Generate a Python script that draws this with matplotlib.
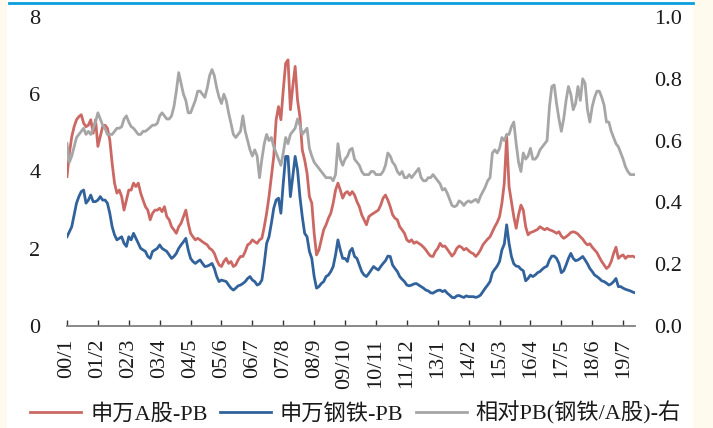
import numpy as np
import matplotlib
matplotlib.use("Agg")
import matplotlib.pyplot as plt
from matplotlib.patches import Rectangle
from matplotlib.lines import Line2D

plt.rcParams['font.family'] = ['Liberation Serif', 'Noto Sans CJK SC']
plt.rcParams['axes.unicode_minus'] = False

# monthly PB, 2000/01 .. 2019/12
pb_market = [
    3.87, 4.47, 4.9, 5.16, 5.34, 5.42, 5.47, 5.25, 5.16, 5.2,
    5.34, 4.99, 5.34, 4.65, 4.9, 5.16, 5.2, 5.12, 4.82, 4.21,
    3.7, 3.44, 3.52, 3.35, 3.0, 3.26, 3.52, 3.52, 3.7, 3.61,
    3.7, 3.44, 3.26, 3.09, 3.0, 2.75, 2.92, 3.0, 3.0, 3.05,
    2.96, 3.09, 2.83, 2.75, 2.57, 2.49, 2.4, 2.57, 2.66, 2.83,
    3.0, 2.66, 2.4, 2.31, 2.23, 2.27, 2.23, 2.18, 2.14, 2.1,
    2.01, 1.97, 1.88, 1.71, 1.58, 1.54, 1.67, 1.75, 1.62, 1.67,
    1.54, 1.58, 1.71, 1.8, 1.8, 1.93, 2.1, 2.14, 2.23, 2.18,
    2.14, 2.23, 2.27, 2.57, 2.92, 3.35, 3.87, 4.39, 5.34, 5.68,
    5.34, 6.11, 6.8, 6.89, 5.6, 6.2, 6.72, 5.85, 5.42, 4.56,
    4.3, 3.96, 3.35, 3.18, 2.4, 1.84, 1.97, 2.23, 2.49, 2.62,
    2.79, 2.92, 3.18, 3.52, 3.7, 3.52, 3.31, 3.44, 3.48, 3.39,
    3.48, 3.39, 3.22, 3.09, 2.88, 2.75, 2.62, 2.83, 2.88, 2.92,
    2.96, 3.0, 3.13, 3.31, 3.39, 3.26, 3.09, 2.88, 2.79, 2.75,
    2.57, 2.49, 2.4, 2.23, 2.18, 2.23, 2.14, 2.18, 2.14, 2.1,
    2.04, 1.97, 1.88, 1.81, 1.8, 1.93, 2.01, 2.14, 2.06, 2.07,
    1.99, 1.9, 1.81, 1.88, 2.01, 2.07, 2.04, 1.97, 2.01, 1.95,
    1.9, 1.87, 1.8, 1.87, 1.97, 2.1, 2.18, 2.25, 2.31, 2.44,
    2.57, 2.68, 2.83, 3.18, 3.7, 4.9, 3.61, 3.22, 2.83, 2.53,
    2.88, 3.13, 3.0, 2.57, 2.36, 2.42, 2.44, 2.47, 2.5, 2.57,
    2.53, 2.49, 2.53, 2.49, 2.47, 2.44, 2.4, 2.44, 2.33, 2.27,
    2.31, 2.36, 2.42, 2.44, 2.42, 2.38, 2.31, 2.25, 2.16, 2.1,
    2.13, 2.04, 1.97, 1.9, 1.78, 1.67, 1.58, 1.49, 1.54, 1.67,
    1.88, 2.04, 1.75, 1.81, 1.84, 1.75, 1.81, 1.8, 1.81, 1.78,
]

pb_steel = [
    2.31, 2.44, 2.57, 2.88, 3.18, 3.35, 3.48, 3.52, 3.18, 3.26,
    3.39, 3.22, 3.22, 3.26, 3.35, 3.26, 3.26, 3.18, 2.92, 2.57,
    2.36, 2.23, 2.27, 2.31, 2.14, 2.06, 2.31, 2.23, 2.4, 2.27,
    2.14, 2.01, 1.97, 1.93, 1.8, 1.75, 1.93, 1.97, 2.01, 2.1,
    2.01, 1.97, 1.93, 1.84, 1.75, 1.8, 1.88, 2.01, 2.1, 2.18,
    2.27, 1.97, 1.75, 1.67, 1.62, 1.67, 1.71, 1.62, 1.54, 1.55,
    1.58, 1.62, 1.49, 1.28, 1.15, 1.19, 1.17, 1.15, 1.06, 0.98,
    0.93, 0.98, 1.04, 1.06, 1.1, 1.15, 1.23, 1.28, 1.19, 1.15,
    1.06, 1.09, 1.19, 1.62, 2.14, 2.31, 2.66, 3.05, 3.26, 3.31,
    2.92, 3.7, 4.39, 4.39, 3.35, 3.87, 4.39, 4.04, 3.35, 2.83,
    2.4, 2.31, 1.93, 1.75, 1.28, 0.98, 1.02, 1.1, 1.15, 1.28,
    1.32, 1.41, 1.54, 1.84, 2.23, 1.97, 1.75, 1.75, 1.67, 1.93,
    2.01, 1.8, 1.75, 1.58, 1.41, 1.32, 1.28, 1.36, 1.45, 1.54,
    1.49, 1.45, 1.54, 1.62, 1.69, 1.81, 1.8, 1.58, 1.49, 1.41,
    1.28, 1.21, 1.15, 1.06, 1.04, 1.06, 1.09, 1.1, 1.06, 1.02,
    0.98, 0.93, 0.91, 0.86, 0.85, 0.89, 0.92, 0.93, 0.89, 0.92,
    0.85, 0.8, 0.74, 0.73, 0.78, 0.79, 0.76, 0.74, 0.78, 0.76,
    0.76, 0.76, 0.74, 0.76, 0.8, 0.89, 0.98, 1.06, 1.15, 1.38,
    1.47, 1.55, 1.67, 1.97, 2.12, 2.62, 2.14, 1.8, 1.61, 1.55,
    1.54, 1.47, 1.43, 1.17, 1.23, 1.32, 1.28, 1.32, 1.38, 1.41,
    1.47, 1.52, 1.55, 1.71, 1.81, 1.81, 1.75, 1.62, 1.38, 1.43,
    1.58, 1.75, 1.88, 1.75, 1.69, 1.71, 1.75, 1.8, 1.71, 1.61,
    1.49, 1.41, 1.32, 1.28, 1.23, 1.17, 1.15, 1.11, 1.06, 1.09,
    1.15, 1.23, 1.02, 1.02, 0.98, 0.95, 0.93, 0.91, 0.88, 0.86,
]

pb_relative = [
    0.59, 0.53, 0.55, 0.58, 0.61, 0.62, 0.63, 0.64, 0.62, 0.63,
    0.62, 0.64, 0.66, 0.69, 0.67, 0.65, 0.64, 0.62, 0.62, 0.62,
    0.63, 0.64, 0.64, 0.645, 0.67, 0.68, 0.66, 0.645, 0.64, 0.63,
    0.62, 0.62, 0.63, 0.63, 0.636, 0.643, 0.65, 0.65, 0.656, 0.68,
    0.69, 0.68, 0.67, 0.67, 0.68, 0.71, 0.76, 0.82, 0.785, 0.75,
    0.73, 0.69, 0.69, 0.71, 0.73, 0.76, 0.76, 0.75, 0.74, 0.77,
    0.81, 0.83, 0.81, 0.77, 0.74, 0.72, 0.75, 0.73, 0.69, 0.656,
    0.62, 0.61, 0.62, 0.63, 0.68, 0.63, 0.60, 0.57, 0.55, 0.57,
    0.55, 0.48, 0.54, 0.59, 0.62, 0.60, 0.61, 0.58, 0.56, 0.54,
    0.52, 0.56, 0.61, 0.59, 0.62, 0.63, 0.64, 0.67, 0.65, 0.62,
    0.63, 0.64, 0.575, 0.55, 0.53, 0.52, 0.51, 0.50, 0.49, 0.48,
    0.48, 0.48, 0.47, 0.49, 0.59, 0.54, 0.52, 0.54, 0.55, 0.57,
    0.575, 0.54, 0.53, 0.52, 0.50, 0.49, 0.49, 0.49, 0.50, 0.50,
    0.49, 0.49, 0.49, 0.50, 0.52, 0.56, 0.55, 0.53, 0.52, 0.50,
    0.49, 0.50, 0.48, 0.48, 0.49, 0.48, 0.49, 0.50, 0.51, 0.48,
    0.47, 0.47, 0.48, 0.48, 0.49, 0.48, 0.47, 0.46, 0.44, 0.445,
    0.43, 0.41, 0.39, 0.386, 0.39, 0.405, 0.40, 0.39, 0.40, 0.405,
    0.40, 0.405, 0.41, 0.40, 0.42, 0.435, 0.45, 0.47, 0.48, 0.56,
    0.57, 0.56, 0.575, 0.61, 0.60, 0.62, 0.62, 0.645, 0.66, 0.59,
    0.53, 0.50, 0.56, 0.54, 0.55, 0.575, 0.54, 0.54, 0.55, 0.57,
    0.58, 0.59, 0.60, 0.71, 0.775, 0.78, 0.72, 0.67, 0.63, 0.67,
    0.73, 0.775, 0.75, 0.70, 0.72, 0.775, 0.73, 0.80, 0.785, 0.70,
    0.66, 0.71, 0.74, 0.76, 0.76, 0.74, 0.715, 0.66, 0.66, 0.63,
    0.61, 0.59, 0.58, 0.56, 0.54, 0.515, 0.50, 0.49, 0.49, 0.49,
]

tick_labels = ['00/1', '01/2', '02/3', '03/4', '04/5', '05/6', '06/7', '07/8',
               '08/9', '09/10', '10/11', '11/12', '13/1', '14/2', '15/3',
               '16/4', '17/5', '18/6', '19/7']
series_names = ['申万A股-PB', '申万钢铁-PB', '相对PB(钢铁/A股)-右']

W, H = 713, 428
months = np.arange(len(pb_market))
tick_pos = np.arange(len(tick_labels)) * 13

fig = plt.figure(figsize=(W / 100, H / 100), dpi=100, facecolor='#FFF9EE')
fig.add_artist(Rectangle((7 / W, 0), 686 / W, 1, transform=fig.transFigure,
                         facecolor='white', edgecolor='none', zorder=-5))
fig.add_artist(Line2D([9 / W, 693 / W], [425 / H, 425 / H], transform=fig.transFigure,
                      color='#0A9EDC', lw=2.0))

ax = fig.add_axes([67 / W, 102 / H, 568 / W, 309 / H])
ax.set_facecolor('none')
l1, = ax.plot(months, pb_market, color='#CB6864', lw=2.0)
l2, = ax.plot(months, pb_steel, color='#31629B', lw=2.0)
ax2 = ax.twinx()
l3, = ax2.plot(months, pb_relative, color='#A6A6A6', lw=2.0)

ax.set_xlim(0, len(months) - 1)
ax.set_ylim(0, 8)
ax2.set_ylim(0, 1.0)

for s in ['left', 'right', 'top']:
    ax.spines[s].set_visible(False)
for s in ax2.spines.values():
    s.set_visible(False)
ax.spines['bottom'].set_color('#808080')
ax.spines['bottom'].set_linewidth(1.3)

ax.set_xticks(tick_pos)
ax.set_xticklabels(tick_labels, rotation=90)
ax.tick_params(axis='x', direction='in', length=4, width=1, color='#333333',
               labelsize=16, pad=9, labelcolor='#1a1a1a')
ax.set_yticks([0, 2, 4, 6, 8])
ax.tick_params(axis='y', length=0, pad=19, labelsize=16, labelcolor='#1a1a1a')
ax2.set_yticks([0, 0.2, 0.4, 0.6, 0.8, 1.0])
ax2.set_yticklabels(['0.0', '0.2', '0.4', '0.6', '0.8', '1.0'])
ax2.tick_params(axis='y', length=0, pad=14, labelsize=16, labelcolor='#1a1a1a')

fig.legend([l1, l2, l3], series_names, loc='center', bbox_to_anchor=(0.4986, 15 / H),
           ncol=3, frameon=False, fontsize=16, handlelength=2.3, handletextpad=0.4,
           columnspacing=0.55, labelcolor='#1a1a1a')

fig.savefig('out.png', dpi=100, facecolor=fig.get_facecolor())
